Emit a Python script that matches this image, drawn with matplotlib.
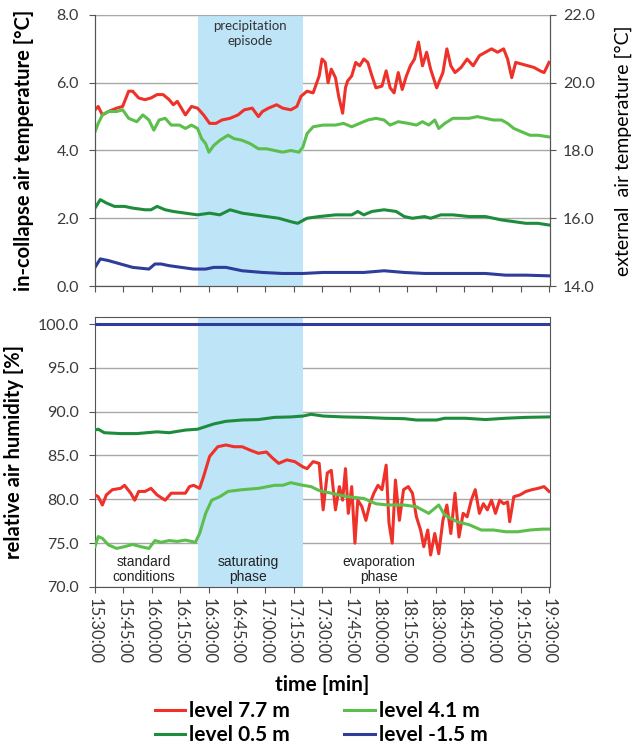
import numpy as np
import matplotlib
matplotlib.use("Agg")
import matplotlib.pyplot as plt

plt.rcParams['font.family'] = ['Lato', 'DejaVu Sans']

# minutes after 15:30:00
tick_labels = ["15:30:00", "15:45:00", "16:00:00", "16:15:00", "16:30:00", "16:45:00",
               "17:00:00", "17:15:00", "17:30:00", "17:45:00", "18:00:00", "18:15:00",
               "18:30:00", "18:45:00", "19:00:00", "19:15:00", "19:30:00"]
rain_start, rain_end = 54.5, 110.0

# air temperature, level 7.7 m
t_red_top = [0, 1.7, 3.9, 7.1, 11.4, 14.6, 17.8, 19.9, 23.1, 26.4, 29.6, 32.8, 36.0, 39.2, 41.4,
             43.5, 47.8, 51.0, 54.2, 57.4, 60.6, 63.9, 67.1, 71.4, 75.6, 78.9, 83.1, 86.4, 88.5,
             91.7, 96.0, 99.2, 103.5, 106.7, 108.9, 112.1, 115.3, 118.5, 120.0, 121.7, 123.2,
             124.9, 127.1, 128.8, 130.9, 132.4, 133.5, 135.7, 137.8, 139.9, 142.1, 144.2, 146.4,
             148.5, 151.7, 153.9, 156.0, 158.1, 160.3, 162.4, 164.6, 166.7, 168.9, 171.0, 173.1,
             175.3, 177.4, 180.6, 183.9, 186.0, 188.1, 190.3, 193.5, 196.7, 199.9, 203.2, 206.4,
             209.6, 212.8, 216.0, 218.1, 220.3, 222.4, 225.6, 228.9, 232.1, 235.3, 237.4, 240]
v_red_top = [5.2, 5.3, 5.05, 5.15, 5.25, 5.3, 5.75, 5.75, 5.55, 5.5, 5.55, 5.65, 5.65, 5.5, 5.35,
             5.45, 5.05, 5.3, 5.25, 5.05, 4.8, 4.8, 4.9, 4.95, 5.05, 5.2, 5.25, 5.0, 5.15,
             5.25, 5.35, 5.25, 5.2, 5.3, 5.6, 5.75, 5.7, 6.2, 6.7, 6.6, 6.0,
             6.4, 6.15, 5.6, 5.1, 5.85, 6.05, 6.2, 6.6, 6.5, 6.7, 6.6, 6.2,
             5.85, 5.9, 6.35, 5.85, 5.7, 6.3, 5.8, 6.2, 6.5, 6.7, 7.2, 6.5,
             6.9, 6.4, 5.85, 6.3, 7.0, 6.5, 6.3, 6.45, 6.7, 6.5, 6.8, 6.9,
             7.0, 6.9, 7.0, 6.7, 6.15, 6.6, 6.55, 6.5, 6.45, 6.35, 6.3, 6.6]

# level 4.1 m
t_lg_top = [0, 1.7, 3.9, 7.1, 11.4, 14.6, 17.8, 22.1, 25.3, 28.5, 31.1, 33.9, 37.1, 40.3, 44.6,
            47.8, 51.0, 54.2, 56.4, 58.5, 60.2, 62.8, 66.0, 70.3, 73.5, 77.8, 82.1, 86.4, 90.6,
            94.9, 99.2, 103.5, 107.8, 109.9, 112.1, 115.3, 120.6, 127.1, 131.4, 135.7, 139.9,
            144.2, 148.5, 152.8, 156.0, 160.3, 165.6, 169.9, 173.1, 176.4, 179.6, 181.7, 184.9,
            189.2, 193.5, 197.8, 202.1, 206.4, 210.6, 214.9, 218.1, 221.4, 225.6, 229.9, 234.2, 240]
v_lg_top = [4.55, 4.8, 5.05, 5.15, 5.15, 5.2, 4.95, 4.85, 5.05, 4.9, 4.6, 4.9, 4.95, 4.75, 4.75,
            4.65, 4.75, 4.65, 4.35, 4.2, 3.95, 4.15, 4.3, 4.45, 4.35, 4.3, 4.2, 4.05, 4.05,
            4.0, 3.95, 4.0, 3.95, 4.1, 4.5, 4.7, 4.75, 4.75, 4.8, 4.7, 4.8,
            4.9, 4.95, 4.9, 4.75, 4.85, 4.8, 4.75, 4.85, 4.75, 4.9, 4.65, 4.8,
            4.95, 4.95, 4.95, 5.0, 4.95, 4.9, 4.9, 4.8, 4.65, 4.55, 4.45, 4.45, 4.4]

# level 0.5 m
t_dg_top = [0, 2.8, 6.0, 10.3, 15.6, 19.9, 26.4, 29.6, 32.8, 37.1, 41.4, 47.8, 54.2, 60.6, 66.0,
            71.4, 77.8, 84.2, 90.6, 97.1, 103.5, 107.1, 112.1, 118.5, 127.1, 135.7, 138.9, 142.1,
            146.4, 152.8, 159.2, 163.5, 167.8, 174.2, 177.4, 182.8, 189.2, 197.8, 206.4, 214.9,
            221.4, 227.8, 234.2, 240]
v_dg_top = [2.3, 2.55, 2.45, 2.35, 2.35, 2.3, 2.25, 2.25, 2.35, 2.25, 2.2, 2.15, 2.1, 2.15, 2.1,
            2.25, 2.15, 2.1, 2.05, 2.0, 1.9, 1.85, 2.0, 2.05, 2.1, 2.1, 2.2, 2.1,
            2.2, 2.25, 2.2, 2.05, 2.0, 2.05, 2.0, 2.1, 2.1, 2.05, 2.05, 1.95,
            1.9, 1.85, 1.85, 1.8]

# level -1.5 m
t_bl_top = [0, 2.8, 7.1, 13.5, 19.9, 28.5, 31.7, 34.9, 39.2, 45.6, 52.1, 58.5, 62.8, 69.2, 77.8,
            88.5, 99.2, 109.9, 120.6, 131.4, 142.1, 152.8, 163.5, 174.2, 184.9, 195.6, 206.4,
            217.1, 227.8, 240]
v_bl_top = [0.55, 0.8, 0.75, 0.65, 0.55, 0.5, 0.65, 0.65, 0.6, 0.55, 0.5, 0.5, 0.55, 0.55, 0.45,
            0.4, 0.37, 0.37, 0.4, 0.4, 0.4, 0.45, 0.4, 0.37, 0.37, 0.37, 0.37,
            0.32, 0.32, 0.3]

# relative humidity
t_red_bot = [0, 1.7, 3.9, 6.0, 9.2, 13.5, 15.6, 18.9, 21.0, 23.1, 26.4, 29.6, 32.8, 37.1, 40.3,
             44.6, 47.8, 49.9, 52.1, 55.3, 57.4, 60.6, 64.9, 69.2, 73.5, 77.8, 82.1, 86.4, 90.6,
             93.9, 97.1, 101.4, 105.6, 109.9, 112.1, 115.3, 118.5, 120.6, 122.8, 124.9, 127.1,
             129.2, 130.9, 132.4, 133.9, 135.7, 137.4, 138.9, 141.0, 143.2, 145.3, 147.4, 149.6,
             151.7, 153.9, 155.4, 157.1, 158.8, 160.9, 163.1, 165.6, 167.8, 169.9, 172.1, 173.8,
             175.9, 177.4, 179.6, 181.7, 183.9, 186.0, 188.1, 190.3, 192.4, 194.6, 196.7, 198.9,
             201.0, 203.2, 205.3, 207.4, 209.6, 211.7, 213.9, 216.0, 218.1, 219.2, 221.4, 224.6,
             227.8, 231.0, 234.2, 237.4, 240]
v_red_bot = [80.5, 80.3, 79.35, 80.5, 81.1, 81.25, 81.6, 80.7, 79.9, 80.9, 80.9, 81.25, 80.5, 79.9, 80.7,
             80.7, 80.7, 81.45, 81.6, 81.25, 82.6, 84.9, 86.0, 86.2, 86.0, 86.0, 85.6, 85.25, 85.4,
             84.7, 84.1, 84.5, 84.3, 83.7, 83.5, 84.3, 84.1, 78.8, 83.0, 83.3, 78.8,
             81.45, 79.9, 83.5, 78.4, 81.45, 75.0, 79.9, 79.2, 77.6, 79.5, 80.7, 81.6,
             81.1, 83.9, 77.3, 75.0, 82.2, 77.6, 81.1, 81.45, 80.7, 78.0, 76.5, 74.6,
             76.5, 73.65, 76.1, 73.8, 77.6, 79.35, 76.1, 80.7, 75.7, 78.4, 78.0, 79.9,
             81.1, 78.4, 79.5, 78.8, 79.9, 78.4, 79.9, 79.5, 79.7, 77.45, 80.3, 80.5,
             80.9, 81.1, 81.25, 81.45, 80.9]

t_lg_bot = [0, 1.7, 3.9, 7.1, 11.4, 15.6, 19.9, 24.2, 28.5, 31.7, 34.9, 39.2, 43.5, 47.8, 53.1,
            55.3, 58.5, 61.7, 66.0, 70.3, 77.8, 86.4, 94.9, 99.2, 103.5, 109.9, 114.2, 118.5,
            124.9, 133.5, 142.1, 148.5, 154.9, 163.5, 169.9, 176.4, 181.7, 184.9, 191.4, 197.8,
            204.2, 210.6, 217.1, 223.5, 229.9, 236.4, 240]
v_lg_bot = [74.6, 75.75, 75.55, 74.8, 74.4, 74.6, 74.85, 74.6, 74.4, 75.3, 75.1, 75.3, 75.2, 75.35, 75.1,
            76.1, 78.4, 79.9, 80.3, 80.9, 81.1, 81.25, 81.6, 81.6, 81.9, 81.6, 81.45, 81.0,
            80.7, 80.3, 80.1, 79.5, 79.35, 79.35, 79.15, 78.4, 79.35, 78.2, 77.45, 77.1,
            76.5, 76.5, 76.3, 76.3, 76.5, 76.6, 76.6]

t_dg_bot = [0, 1.7, 4.9, 13.5, 22.1, 32.8, 39.2, 47.8, 54.2, 58.5, 62.8, 69.2, 77.8, 86.4, 94.9,
            103.5, 109.9, 114.2, 120.6, 131.4, 142.1, 152.8, 163.5, 169.9, 180.6, 184.9, 195.6,
            206.4, 217.1, 227.8, 240]
v_dg_bot = [87.9, 88.0, 87.6, 87.5, 87.5, 87.7, 87.6, 87.9, 88.0, 88.3, 88.6, 88.9, 89.05, 89.1, 89.35,
            89.4, 89.5, 89.7, 89.5, 89.4, 89.35, 89.25, 89.2, 89.05, 89.05, 89.25, 89.25,
            89.1, 89.25, 89.35, 89.4]

t_bl_bot = [0, 240]
v_bl_bot = [100.0, 100.0]

RED = '#EE3129'
LGREEN = '#5CBE4B'
DGREEN = '#1D8C3D'
BLUE = '#2D3D99'
SHADE = '#BEE4F7'
GRID = '#A8A8A8'
TXT = '#3a3a3a'

fig = plt.figure(figsize=(6.35, 7.45), dpi=100)
ax1 = fig.add_axes([0.1496, 0.6161, 0.7165, 0.3638])
ax2 = fig.add_axes([0.1496, 0.2121, 0.7165, 0.3624])

xt = [15 * i for i in range(len(tick_labels))]

for ax in (ax1, ax2):
    ax.axvspan(rain_start, rain_end, color=SHADE, lw=0, zorder=1)
    ax.set_xlim(0, 240.5)
    ax.set_xticks(xt)
    ax.yaxis.grid(True, color=GRID, lw=1.0)
    ax.set_axisbelow(True)
    ax.tick_params(axis='both', direction='out', length=4.5, color='#555555',
                   labelsize=11.5, labelcolor=TXT)
    ax.tick_params(axis='y', pad=7)
    for s in ax.spines.values():
        s.set_color('#555555')

lw = 2.2
ax1.plot(t_red_top, v_red_top, color=RED, lw=lw, zorder=3)
ax1.plot(t_lg_top, v_lg_top, color=LGREEN, lw=lw, zorder=3)
ax1.plot(t_dg_top, v_dg_top, color=DGREEN, lw=lw, zorder=3)
ax1.plot(t_bl_top, v_bl_top, color=BLUE, lw=lw, zorder=3)
ax1.set_ylim(0, 8)
ax1.set_yticks([0, 2, 4, 6, 8])
ax1.set_yticklabels([f"{v:.1f}" for v in [0, 2, 4, 6, 8]])
ax1.set_xticklabels([])
ax1.spines['top'].set_color(GRID)
ax1.set_ylabel("in-collapse air temperature [°C]", fontsize=14.5, fontweight='bold', labelpad=16)
ax1.text(82, 7.45, "precipitation\nepisode", ha='center', va='center', fontsize=9.5,
         color='#333333', linespacing=1.25)

axr = ax1.twinx()
axr.set_ylim(14, 22)
axr.set_yticks([14, 16, 18, 20, 22])
axr.set_yticklabels([f"{v:.1f}" for v in [14, 16, 18, 20, 22]])
axr.tick_params(axis='y', direction='out', length=4.5, color='#555555', labelsize=11.5,
                labelcolor=TXT, pad=5)
for s in axr.spines.values():
    s.set_color('#555555')
axr.spines['top'].set_visible(False)
axr.set_ylabel("external  air temperature [°C]", fontsize=14, labelpad=14)

l_red, = ax2.plot(t_red_bot, v_red_bot, color=RED, lw=lw, zorder=3, label="level 7.7 m")
l_lg, = ax2.plot(t_lg_bot, v_lg_bot, color=LGREEN, lw=lw, zorder=3, label="level 4.1 m")
l_dg, = ax2.plot(t_dg_bot, v_dg_bot, color=DGREEN, lw=lw, zorder=3, label="level 0.5 m")
l_bl, = ax2.plot(t_bl_bot, v_bl_bot, color=BLUE, lw=lw, zorder=3, label="level -1.5 m")
ax2.set_ylim(70, 100.8)
ax2.set_yticks([70, 75, 80, 85, 90, 95, 100])
ax2.set_yticklabels([f"{v:.1f}" for v in [70, 75, 80, 85, 90, 95, 100]])
ax2.set_xticklabels(tick_labels, rotation=270, fontsize=12)
ax2.set_ylabel("relative air humidity [%]", fontsize=14.5, fontweight='bold', labelpad=10)
ax2.set_xlabel("time [min]", fontsize=15, fontweight='bold', labelpad=8)

ann = dict(ha='center', va='center', fontsize=10, color='#222222', linespacing=1.1,
           family=['Liberation Sans', 'DejaVu Sans'])
ax2.text(25.7, 72.0, "standard\nconditions", **ann)
ax2.text(81, 72.0, "saturating\nphase", **ann)
ax2.text(150, 72.0, "evaporation\nphase", **ann)

fig.legend([l_red, l_dg, l_lg, l_bl], ["level 7.7 m", "level 0.5 m", "level 4.1 m", "level -1.5 m"],
           ncol=2, loc='center', bbox_to_anchor=(0.506, 0.0295), frameon=False,
           prop={'weight': 'bold', 'size': 15}, handlelength=1.45, handletextpad=0.2,
           columnspacing=2.6, labelspacing=0.2)

fig.savefig("out.png", dpi=100)
